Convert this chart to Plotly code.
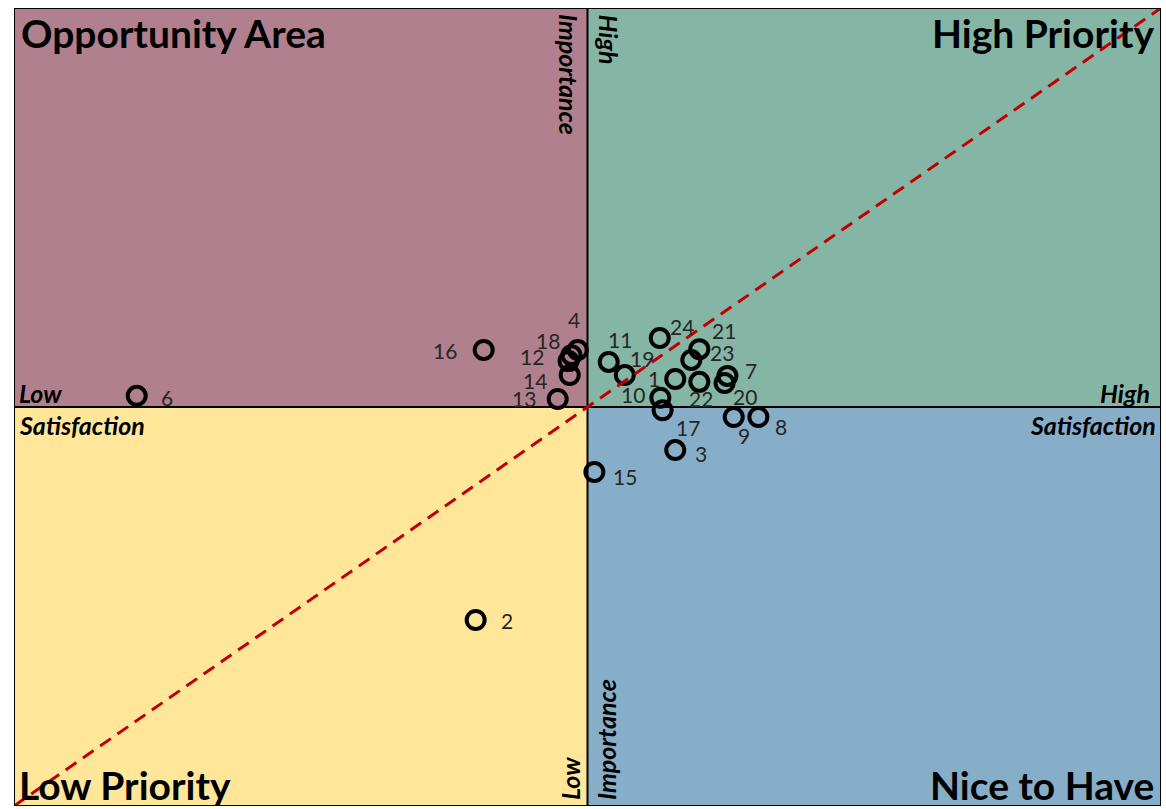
import plotly.graph_objects as go

# Satisfaction (x) and importance (y) gap scores, centred on zero
item_ids = ["1", "2", "3", "4", "6", "7", "8", "9", "10", "11", "12", "13",
            "14", "15", "16", "17", "18", "19", "20", "21", "22", "23", "24"]
satisfaction = [0.153, -0.195, 0.153, -0.017, -0.786, 0.244, 0.298, 0.255, 0.127, 0.037, -0.033, -0.052,
                -0.031, 0.012, -0.181, 0.131, -0.028, 0.065, 0.239, 0.195, 0.195, 0.181, 0.126]
importance = [0.070, -0.534, -0.108, 0.143, 0.028, 0.078, -0.025, -0.025, 0.023, 0.113, 0.115, 0.020,
              0.080, -0.163, 0.143, -0.008, 0.130, 0.080, 0.060, 0.145, 0.063, 0.118, 0.173]

# label offsets in pixels (dx, dy with dy downwards) for each item's number
label_offset = {
    "1": (-21, -1), "2": (31, 0), "3": (26, 3), "4": (-4, -30), "6": (30, 2),
    "7": (24, -5), "8": (23, 10), "9": (10, 19), "10": (-27, -3), "11": (11, -22),
    "12": (-37, -5), "13": (-34, -1), "14": (-35, 5), "15": (31, 4), "16": (-39, 1),
    "17": (25, 17), "18": (-23, -15), "19": (17, -17), "20": (20, 13), "21": (25, -19),
    "22": (2, 17), "23": (31, -7), "24": (22, -11),
}

quadrants = [
    # x0, x1, y0, y1, fill
    (-1, 0, 0, 1, "#B1808E"),
    (0, 1, 0, 1, "#85B6A5"),
    (-1, 0, -1, 0, "#FFE699"),
    (0, 1, -1, 0, "#87AEC8"),
]

FONT = "Lato"
fig = go.Figure()

shapes = []
for x0, x1, y0, y1, col in quadrants:
    shapes.append(dict(type="rect", xref="x", yref="y", x0=x0, x1=x1, y0=y0, y1=y1,
                       fillcolor=col, line=dict(width=0), layer="below"))
# centre cross
shapes.append(dict(type="line", xref="x", yref="y", x0=0, x1=0, y0=-1, y1=1,
                   line=dict(color="black", width=2)))
shapes.append(dict(type="line", xref="x", yref="y", x0=-1, x1=1, y0=0, y1=0,
                   line=dict(color="black", width=2)))
# parity diagonal
shapes.append(dict(type="line", xref="x", yref="y", x0=-1, x1=1, y0=-1, y1=1,
                   line=dict(color="#C00000", width=3, dash="13px,8px")))
# frame
shapes.append(dict(type="rect", xref="x", yref="y", x0=-1, x1=1, y0=-1, y1=1,
                   line=dict(color="black", width=2)))

fig.add_trace(go.Scatter(
    x=satisfaction, y=importance, mode="markers",
    marker=dict(symbol="circle-open", size=18, color="black", line=dict(width=4, color="black")),
    hoverinfo="skip", showlegend=False,
))

annotations = []
for name, sx, iy in zip(item_ids, satisfaction, importance):
    dx, dy = label_offset[name]
    annotations.append(dict(x=sx, y=iy, xref="x", yref="y", text=name, showarrow=False,
                            xshift=dx, yshift=-dy, borderpad=0,
                            font=dict(family=FONT, size=21, color="#262626")))

title_font = dict(family=FONT, size=39, color="black")
annotations += [
    dict(x=0, y=1, xref="paper", yref="paper", text="<b>Opportunity Area</b>", showarrow=False,
         xanchor="left", yanchor="top", xshift=5, yshift=0, font=title_font),
    dict(x=1, y=1, xref="paper", yref="paper", text="<b>High Priority</b>", showarrow=False,
         xanchor="right", yanchor="top", xshift=-5, yshift=0, font=title_font),
    dict(x=0, y=0, xref="paper", yref="paper", text="<b>Low Priority</b>", showarrow=False,
         xanchor="left", yanchor="bottom", xshift=3, yshift=-4, font=title_font),
    dict(x=1, y=0, xref="paper", yref="paper", text="<b>Nice to Have</b>", showarrow=False,
         xanchor="right", yanchor="bottom", xshift=-5, yshift=-4, font=title_font),
]

axis_font = dict(family=FONT, size=25, color="black")
annotations += [
    dict(x=-1, y=0, xref="x", yref="y", text="<b><i>Low</i></b>", showarrow=False,
         xanchor="left", yanchor="bottom", xshift=3, yshift=-3, font=axis_font),
    dict(x=-1, y=0, xref="x", yref="y", text="<b><i>Satisfaction</i></b>", showarrow=False,
         xanchor="left", yanchor="top", xshift=3, yshift=-1, font=axis_font),
    dict(x=1, y=0, xref="x", yref="y", text="<b><i>High</i></b>", showarrow=False,
         xanchor="right", yanchor="bottom", xshift=-9, yshift=-3, font=axis_font),
    dict(x=1, y=0, xref="x", yref="y", text="<b><i>Satisfaction</i></b>", showarrow=False,
         xanchor="right", yanchor="top", xshift=-3, yshift=-1, font=axis_font),
    dict(x=0, y=1, xref="x", yref="y", text="<b><i>Importance</i></b>", showarrow=False,
         textangle=90, xanchor="right", yanchor="top", xshift=-1, yshift=-4, font=axis_font),
    dict(x=0, y=1, xref="x", yref="y", text="<b><i>High</i></b>", showarrow=False,
         textangle=90, xanchor="left", yanchor="top", xshift=4, yshift=-4, font=axis_font),
    dict(x=0, y=-1, xref="x", yref="y", text="<b><i>Low</i></b>", showarrow=False,
         textangle=-90, xanchor="right", yanchor="bottom", xshift=-1, yshift=4, font=axis_font),
    dict(x=0, y=-1, xref="x", yref="y", text="<b><i>Importance</i></b>", showarrow=False,
         textangle=-90, xanchor="left", yanchor="bottom", xshift=1, yshift=4, font=axis_font),
]

fig.update_layout(
    width=1166, height=809,
    margin=dict(l=14, r=5, t=8, b=3),
    paper_bgcolor="white", plot_bgcolor="white",
    shapes=shapes, annotations=annotations,
    xaxis=dict(range=[-1, 1], visible=False, fixedrange=True),
    yaxis=dict(range=[-1, 1], visible=False, fixedrange=True),
    showlegend=False,
)

fig.write_html("out.html")
